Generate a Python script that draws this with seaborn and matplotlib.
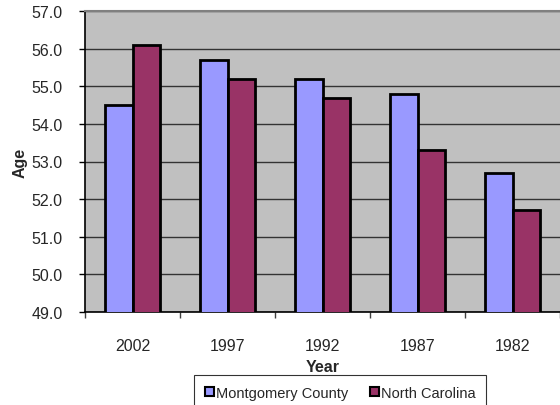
import pandas as pd
import numpy as np
import matplotlib
matplotlib.use("Agg")
import matplotlib.pyplot as plt
import seaborn as sns

# data
years = ["2002", "1997", "1992", "1987", "1982"]
montgomery = [54.5, 55.7, 55.2, 54.8, 52.7]
north_carolina = [56.1, 55.2, 54.7, 53.3, 51.7]
series = ["Montgomery County", "North Carolina"]

df = pd.DataFrame({
    "Year": years * 2,
    "Age": montgomery + north_carolina,
    "Area": [series[0]] * 5 + [series[1]] * 5,
})

sns.set_style("white")
plt.rcParams["font.family"] = ["Liberation Sans", "DejaVu Sans"]

fig = plt.figure(figsize=(5.6, 4.06), dpi=100)
# plot area: x 85..560, y 12..313 px
ax = fig.add_axes([85 / 560, 1 - 313 / 406, 475 / 560, 301 / 406])
ax.set_facecolor("#C0C0C0")

sns.barplot(data=df, x="Year", y="Age", hue="Area", order=years,
            palette=["#9999FF", "#993366"], saturation=1, width=0.58,
            edgecolor="black", linewidth=2, ax=ax, legend=True, zorder=3)

yt = np.arange(49, 57.1, 1)
ax.set_ylim(49, 57)
ax.set_yticks(yt)
ax.set_yticklabels([f"{v:.1f}" for v in yt], fontsize=11.5)
ax.yaxis.grid(True, color="#333333", linewidth=1, zorder=0)
ax.set_axisbelow(True)
ax.set_xlim(-0.5, 4.5)

# ticks between categories, labels centred
ax.set_xticks(np.arange(-0.5, 4.6, 1))
ax.set_xticklabels([])
ax.set_xticks(range(5), minor=True)
ax.set_xticklabels(years, minor=True, fontsize=11.5)
ax.tick_params(axis="x", which="major", direction="out", length=4, color="#404040", width=1)
ax.tick_params(axis="x", which="minor", length=0, pad=19)
ax.tick_params(axis="y", direction="out", length=4, color="black", width=1, pad=12)
ax.tick_params(bottom=True, left=True)

ax.spines["top"].set_color("#808080")
ax.spines["top"].set_linewidth(1.5)
ax.spines["right"].set_visible(False)
ax.spines["left"].set_color("black")
ax.spines["left"].set_linewidth(1.2)
ax.spines["bottom"].set_color("black")
ax.spines["bottom"].set_linewidth(1.2)

ax.set_xlabel("Year", fontsize=11.5, fontweight="bold", labelpad=4)
ax.set_ylabel("Age", fontsize=11.5, fontweight="bold", labelpad=3)

leg = ax.legend(loc="upper center", bbox_to_anchor=(0.537, -0.209), ncol=2,
                frameon=True, fancybox=False, fontsize=10.5, handlelength=0.6,
                handleheight=0.6, handletextpad=0.15, columnspacing=1.5,
                borderpad=0.75, borderaxespad=0)
leg.get_frame().set_edgecolor("black")
leg.get_frame().set_linewidth(0.8)
for h in leg.legend_handles:
    h.set_linewidth(1.5)

fig.savefig("out.png", dpi=100)
